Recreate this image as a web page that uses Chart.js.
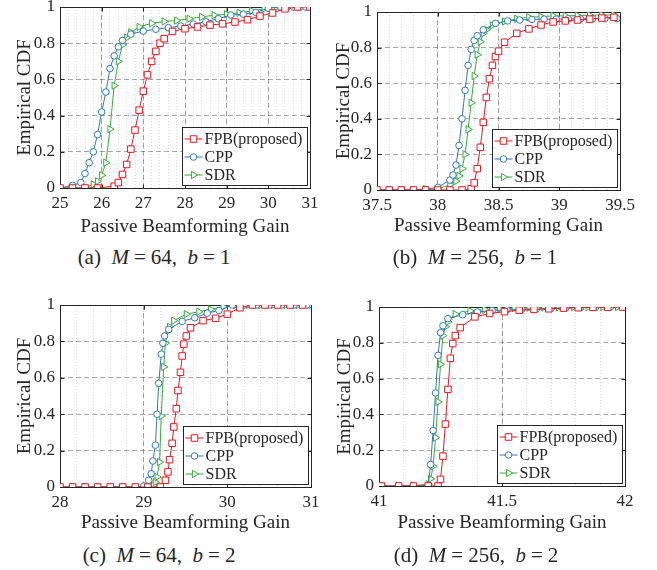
<!DOCTYPE html>
<html>
<head>
<meta charset="utf-8">
<script src="https://cdn.jsdelivr.net/npm/chart.js@4.4.1/dist/chart.umd.min.js"></script>
<style>
  body { margin: 0; background: #fff; }
  #page { position: relative; width: 657px; height: 570px; overflow: hidden;
          font-family: 'Liberation Serif', 'Times New Roman', serif; color: #262626; }
  canvas { position: absolute; }
  .cap { position: absolute; width: 300px; text-align: center; font-size: 21px; line-height: 24px; white-space: nowrap; }
  .eq { margin: 0 5px; }
</style>
</head>
<body>
<div id="page">
  <canvas id="chartA" width="330" height="250" style="left:0px;top:-6px"></canvas>
  <canvas id="chartB" width="330" height="250" style="left:327px;top:-6px"></canvas>
  <canvas id="chartC" width="330" height="250" style="left:0px;top:290px"></canvas>
  <canvas id="chartD" width="330" height="250" style="left:327px;top:290px"></canvas>
  <div class="cap" style="left:4px;top:245px">(a)&ensp;<i>M</i><span class="eq">=</span>64,&ensp;<i>b</i><span class="eq">=</span>1</div>
  <div class="cap" style="left:325px;top:245px">(b)&ensp;<i>M</i><span class="eq">=</span>256,&ensp;<i>b</i><span class="eq">=</span>1</div>
  <div class="cap" style="left:9px;top:543px">(c)&ensp;<i>M</i><span class="eq">=</span>64,&ensp;<i>b</i><span class="eq">=</span>2</div>
  <div class="cap" style="left:326px;top:543px">(d)&ensp;<i>M</i><span class="eq">=</span>256,&ensp;<i>b</i><span class="eq">=</span>2</div>
</div>
<script>
// series names and shared y ticks
const seriesNames = ['FPB(proposed)', 'CPP', 'SDR'];
const yTicks = [0, 0.2, 0.4, 0.6, 0.8, 1];

// (a) M = 64, b = 1
const xTicksA = [25, 26, 27, 28, 29, 30, 31];
const fpbXA = [25.0, 25.3, 25.6, 25.9, 26.3, 26.4, 26.5, 26.6, 26.7, 26.8, 26.9, 27.0, 27.1, 27.2, 27.3, 27.4, 27.5, 27.7, 28.0, 28.3, 28.6, 28.9, 29.2, 29.5, 29.8, 30.1, 30.4, 30.7, 31.0];
const fpbYA = [0, 0, 0, 0, 0.01, 0.03, 0.075, 0.13, 0.215, 0.32, 0.43, 0.535, 0.625, 0.70, 0.755, 0.80, 0.825, 0.865, 0.88, 0.89, 0.90, 0.907, 0.917, 0.93, 0.95, 0.967, 0.99, 1, 1];
const cppXA = [25.0, 25.3, 25.5, 25.6, 25.7, 25.8, 25.9, 26.0, 26.1, 26.2, 26.3, 26.4, 26.5, 26.7, 27.0, 27.3, 27.6, 27.9, 28.2, 28.5, 28.8, 29.1, 29.4, 29.7, 30.0, 30.3, 30.6, 30.9];
const cppYA = [0, 0.015, 0.03, 0.08, 0.14, 0.2, 0.295, 0.42, 0.53, 0.66, 0.73, 0.78, 0.815, 0.85, 0.867, 0.877, 0.886, 0.895, 0.906, 0.919, 0.935, 0.956, 0.96, 0.97, 0.993, 1, 1, 1];
const sdrXA = [25.0, 25.3, 25.6, 25.8, 25.9, 26.0, 26.1, 26.2, 26.3, 26.4, 26.5, 26.6, 26.7, 26.9, 27.2, 27.5, 27.8, 28.1, 28.4, 28.7, 29.0, 29.3, 29.6, 29.9, 30.2, 30.5, 30.8];
const sdrYA = [0, 0, 0, 0.02, 0.037, 0.07, 0.14, 0.325, 0.565, 0.70, 0.79, 0.83, 0.86, 0.89, 0.91, 0.92, 0.925, 0.935, 0.945, 0.955, 0.96, 0.968, 0.978, 0.99, 1, 1, 1];

// (b) M = 256, b = 1
const xTicksB = [37.5, 38, 38.5, 39, 39.5];
const fpbXB = [37.5, 37.6, 37.7, 37.8, 37.9, 38.0, 38.1, 38.2, 38.275, 38.3, 38.325, 38.35, 38.375, 38.4, 38.425, 38.45, 38.475, 38.5, 38.55, 38.65, 38.75, 38.85, 38.95, 39.05, 39.15, 39.25, 39.35, 39.45];
const fpbYB = [0, 0, 0, 0, 0, 0, 0, 0, 0.007, 0.04, 0.12, 0.24, 0.38, 0.52, 0.625, 0.70, 0.75, 0.78, 0.83, 0.88, 0.905, 0.927, 0.944, 0.95, 0.955, 0.96, 0.966, 0.97];
const cppXB = [37.5, 37.6, 37.7, 37.8, 37.9, 38.0, 38.1, 38.125, 38.15, 38.175, 38.2, 38.225, 38.25, 38.275, 38.3, 38.325, 38.375, 38.475, 38.575, 38.675, 38.775, 38.875, 38.975, 39.075, 39.175, 39.275, 39.375, 39.475];
const cppYB = [0, 0, 0, 0, 0.003, 0.015, 0.056, 0.084, 0.14, 0.25, 0.40, 0.56, 0.70, 0.79, 0.84, 0.867, 0.90, 0.936, 0.95, 0.955, 0.958, 0.96, 0.96, 0.962, 0.962, 0.963, 0.963, 0.963];
const sdrXB = [37.5, 37.6, 37.7, 37.8, 37.9, 38.0, 38.1, 38.15, 38.175, 38.2, 38.225, 38.25, 38.275, 38.3, 38.325, 38.35, 38.375, 38.4, 38.45, 38.55, 38.65, 38.75, 38.85, 38.95, 39.05, 39.15, 39.25, 39.35, 39.45];
const sdrYB = [0, 0, 0, 0, 0.005, 0.005, 0.03, 0.05, 0.08, 0.12, 0.2, 0.34, 0.49, 0.64, 0.76, 0.833, 0.88, 0.90, 0.925, 0.947, 0.962, 0.97, 0.974, 0.978, 0.978, 0.98, 0.982, 0.983, 0.983];

// (c) M = 64, b = 2
const xTicksC = [28, 29, 30, 31];
const fpbXC = [28.0, 28.15, 28.3, 28.45, 28.6, 28.75, 28.9, 29.05, 29.2, 29.26, 29.29, 29.31, 29.34, 29.36, 29.39, 29.41, 29.44, 29.46, 29.48, 29.51, 29.56, 29.71, 29.86, 30.0, 30.15, 30.3, 30.45, 30.6, 30.75, 30.9];
const fpbYC = [0, 0, 0, 0, 0, 0, 0, 0, 0, 0.037, 0.083, 0.15, 0.24, 0.33, 0.43, 0.53, 0.63, 0.72, 0.785, 0.83, 0.875, 0.914, 0.927, 0.95, 0.985, 1, 1, 1, 1, 1];
const cppXC = [28.0, 28.15, 28.3, 28.45, 28.6, 28.75, 28.9, 29.0, 29.06, 29.09, 29.11, 29.14, 29.16, 29.18, 29.21, 29.23, 29.25, 29.3, 29.46, 29.61, 29.76, 29.9, 30.06, 30.2, 30.35, 30.5, 30.65, 30.8, 30.95];
const cppYC = [0, 0, 0, 0, 0, 0, 0, 0.005, 0.037, 0.073, 0.143, 0.23, 0.40, 0.57, 0.73, 0.79, 0.83, 0.866, 0.91, 0.93, 0.955, 0.97, 1, 1, 1, 1, 1, 1, 1];
const sdrXC = [28.0, 28.15, 28.3, 28.45, 28.6, 28.75, 28.9, 29.05, 29.12, 29.14, 29.16, 29.19, 29.21, 29.24, 29.26, 29.29, 29.31, 29.36, 29.51, 29.66, 29.8, 29.95, 30.1, 30.25, 30.4, 30.55, 30.7, 30.85, 31.0];
const sdrYC = [0, 0, 0, 0, 0, 0, 0, 0.003, 0.01, 0.027, 0.055, 0.137, 0.39, 0.66, 0.79, 0.857, 0.88, 0.914, 0.95, 0.963, 0.976, 0.99, 1, 1, 1, 1, 1, 1, 1];

// (d) M = 256, b = 2
const xTicksD = [41, 41.5, 42];
const fpbXD = [41.01, 41.08, 41.14, 41.2, 41.24, 41.25, 41.26, 41.27, 41.28, 41.29, 41.3, 41.31, 41.33, 41.39, 41.45, 41.51, 41.57, 41.63, 41.69, 41.75, 41.81, 41.87, 41.93, 41.99];
const fpbYD = [0, 0, 0, 0, 0, 0.037, 0.167, 0.346, 0.54, 0.713, 0.796, 0.84, 0.885, 0.945, 0.964, 0.974, 0.982, 0.987, 0.99, 0.994, 0.996, 0.998, 0.999, 1];
const cppXD = [41.01, 41.08, 41.14, 41.2, 41.21, 41.22, 41.23, 41.24, 41.25, 41.26, 41.28, 41.34, 41.4, 41.46, 41.52, 41.58, 41.64, 41.7, 41.76, 41.82, 41.88, 41.94, 41.99];
const cppYD = [0, 0, 0, 0.003, 0.12, 0.31, 0.52, 0.73, 0.857, 0.895, 0.935, 0.957, 0.972, 0.98, 0.984, 0.987, 0.99, 0.993, 0.995, 0.997, 0.998, 0.999, 1];
const sdrXD = [41.01, 41.08, 41.14, 41.2, 41.21, 41.22, 41.23, 41.24, 41.25, 41.26, 41.27, 41.28, 41.31, 41.37, 41.43, 41.49, 41.55, 41.61, 41.67, 41.73, 41.79, 41.85, 41.91, 41.97];
const sdrYD = [0, 0, 0.003, 0.01, 0.04, 0.11, 0.27, 0.47, 0.68, 0.84, 0.89, 0.917, 0.96, 0.978, 0.985, 0.99, 0.994, 0.996, 0.997, 0.998, 0.999, 1, 1, 1];

const ink = '#262626';
const serif = "'Liberation Serif', 'Times New Roman', serif";
const majorGrid = 'rgba(0,0,0,0.34)';
const minorGrid = 'rgba(0,0,0,0.14)';
const styles = [
    { color: '#e8171f', pointStyle: 'rect', radius: 4.6, rotation: 0 },
    { color: '#2f78c2', pointStyle: 'circle', radius: 3.3, rotation: 0 },
    { color: '#36ad36', pointStyle: 'triangle', radius: 4.2, rotation: 90 }
];

// box around the plot plus small inward tick marks
const frame = {
    id: 'frame',
    beforeDatasetsDraw(chart) {
        const { ctx, chartArea: a, scales } = chart;
        const l = Math.round(a.left) + 0.5, r = Math.round(a.right) + 0.5;
        const t = Math.round(a.top) + 0.5, b = Math.round(a.bottom) + 0.5;
        ctx.save();
        ctx.strokeStyle = ink;
        ctx.lineWidth = 1;
        ctx.strokeRect(l, t, r - l, b - t);
        ctx.beginPath();
        scales.x.ticks.forEach(tk => {
            const px = Math.round(scales.x.getPixelForValue(tk.value)) + 0.5;
            ctx.moveTo(px, b); ctx.lineTo(px, b - 4);
            ctx.moveTo(px, t); ctx.lineTo(px, t + 4);
        });
        scales.y.ticks.forEach(tk => {
            const py = Math.round(scales.y.getPixelForValue(tk.value)) + 0.5;
            ctx.moveTo(l, py); ctx.lineTo(l + 4, py);
            ctx.moveTo(r, py); ctx.lineTo(r - 4, py);
        });
        ctx.stroke();
        ctx.restore();
    }
};

function drawMarker(ctx, st, x, y) {
    ctx.beginPath();
    if (st.pointStyle === 'rect') {
        const s = st.radius * Math.SQRT1_2;
        ctx.rect(x - s, y - s, 2 * s, 2 * s);
    } else if (st.pointStyle === 'circle') {
        ctx.arc(x, y, st.radius, 0, Math.PI * 2);
    } else {
        const r = st.radius;
        ctx.moveTo(x + r, y);
        ctx.lineTo(x - r / 2, y - r * 0.866);
        ctx.lineTo(x - r / 2, y + r * 0.866);
        ctx.closePath();
    }
    ctx.fillStyle = '#fff';
    ctx.fill();
    ctx.strokeStyle = st.color;
    ctx.stroke();
}

// legend box in the lower right corner of the plot
const boxLegend = {
    id: 'boxLegend',
    afterDatasetsDraw(chart) {
        const { ctx, chartArea: a } = chart;
        const w = 125, h = 58;
        const x0 = Math.round(a.right - 3 - w) + 0.5;
        const y0 = Math.round(a.bottom - 3 - h) + 0.5;
        ctx.save();
        ctx.fillStyle = '#fff';
        ctx.fillRect(x0, y0, w, h);
        ctx.strokeStyle = ink;
        ctx.lineWidth = 1;
        ctx.strokeRect(x0, y0, w, h);
        ctx.font = '16px ' + serif;
        ctx.textBaseline = 'middle';
        seriesNames.forEach((name, i) => {
            const y = Math.round(y0 + 11.5 + 18 * i);
            ctx.strokeStyle = styles[i].color;
            ctx.beginPath();
            ctx.moveTo(x0 + 2, y);
            ctx.lineTo(x0 + 20, y);
            ctx.stroke();
            drawMarker(ctx, styles[i], x0 + 11, y);
            ctx.fillStyle = ink;
            ctx.fillText(name, x0 + 22, y + 1);
        });
        ctx.restore();
    }
};

function makePanel(id, g, xTicks, minorStep, series) {
    const lh = 19 * 1.2;
    const padTop = g.area.top - g.canvas.top;
    const padRight = g.canvas.left + g.canvas.w - g.area.right;
    const yWidth = g.area.left - g.canvas.left;
    const xHeight = g.canvas.top + g.canvas.h - g.area.bottom;
    const xMin = xTicks[0], xMax = xTicks[xTicks.length - 1];

    const datasets = series.map((s, i) => ({
        label: seriesNames[i],
        data: s.x.map((v, k) => ({ x: v, y: s.y[k] })),
        borderColor: styles[i].color,
        borderWidth: 1,
        pointStyle: styles[i].pointStyle,
        pointRadius: styles[i].radius,
        pointRotation: styles[i].rotation,
        pointBackgroundColor: '#fff',
        pointBorderColor: styles[i].color,
        pointBorderWidth: 1,
        tension: 0,
        fill: false
    }));

    new Chart(document.getElementById(id), {
        type: 'line',
        data: { datasets },
        options: {
            responsive: false,
            animation: false,
            events: [],
            layout: { padding: { left: 0, top: padTop, right: padRight, bottom: 0 } },
            plugins: { legend: { display: false }, tooltip: { enabled: false } },
            scales: {
                x: {
                    type: 'linear', min: xMin, max: xMax,
                    afterBuildTicks: s => { s.ticks = xTicks.map(v => ({ value: v })); },
                    afterFit: s => { s.height = xHeight; s.paddingLeft = 0; s.paddingRight = 0; },
                    ticks: { padding: 5, color: ink, font: { family: serif, size: 17 }, maxRotation: 0, autoSkip: false, callback: v => String(v) },
                    grid: { color: majorGrid, drawTicks: false },
                    border: { display: false, dash: [5, 3] },
                    title: {
                        display: true, text: 'Passive Beamforming Gain', color: ink,
                        font: { family: serif, size: 19 },
                        padding: { top: 0, bottom: g.canvas.top + g.canvas.h - g.xTitleY - lh / 2 }
                    }
                },
                xm: {
                    type: 'linear', position: 'bottom', min: xMin, max: xMax, z: -1,
                    afterFit: s => { s.height = 0; s.paddingLeft = 0; s.paddingRight = 0; },
                    ticks: { display: false, stepSize: minorStep },
                    grid: { color: minorGrid, drawTicks: false },
                    border: { display: false, dash: [1, 2] }
                },
                y: {
                    type: 'linear', min: 0, max: 1,
                    afterBuildTicks: s => { s.ticks = yTicks.map(v => ({ value: v })); },
                    afterFit: s => { s.width = yWidth; s.paddingTop = 0; s.paddingBottom = 0; },
                    ticks: { padding: 5, color: ink, font: { family: serif, size: 17 }, callback: v => String(v) },
                    grid: { color: majorGrid, drawTicks: false },
                    border: { display: false, dash: [5, 3] },
                    title: {
                        display: true, text: 'Empirical CDF', color: ink,
                        font: { family: serif, size: 19 },
                        padding: { top: g.yTitleX - g.canvas.left - lh / 2, bottom: 0 }
                    }
                }
            }
        },
        plugins: [frame, boxLegend]
    });
}

makePanel('chartA',
    { canvas: { left: 0, top: -6, w: 330, h: 250 }, area: { left: 60, top: 7, right: 310, bottom: 188 }, yTitleX: 25, xTitleY: 227 },
    xTicksA, 0.2,
    [{ x: fpbXA, y: fpbYA }, { x: cppXA, y: cppYA }, { x: sdrXA, y: sdrYA }]);

makePanel('chartB',
    { canvas: { left: 327, top: -6, w: 330, h: 250 }, area: { left: 377, top: 12, right: 620, bottom: 190 }, yTitleX: 344, xTitleY: 226 },
    xTicksB, 0.1,
    [{ x: fpbXB, y: fpbYB }, { x: cppXB, y: cppYB }, { x: sdrXB, y: sdrYB }]);

makePanel('chartC',
    { canvas: { left: 0, top: 290, w: 330, h: 250 }, area: { left: 60, top: 305, right: 311, bottom: 487 }, yTitleX: 25, xTitleY: 523 },
    xTicksC, 0.2,
    [{ x: fpbXC, y: fpbYC }, { x: cppXC, y: cppYC }, { x: sdrXC, y: sdrYC }]);

makePanel('chartD',
    { canvas: { left: 327, top: 290, w: 330, h: 250 }, area: { left: 379, top: 307, right: 625, bottom: 486 }, yTitleX: 345, xTitleY: 523 },
    xTicksD, 0.1,
    [{ x: fpbXD, y: fpbYD }, { x: cppXD, y: cppYD }, { x: sdrXD, y: sdrYD }]);
</script>
</body>
</html>
